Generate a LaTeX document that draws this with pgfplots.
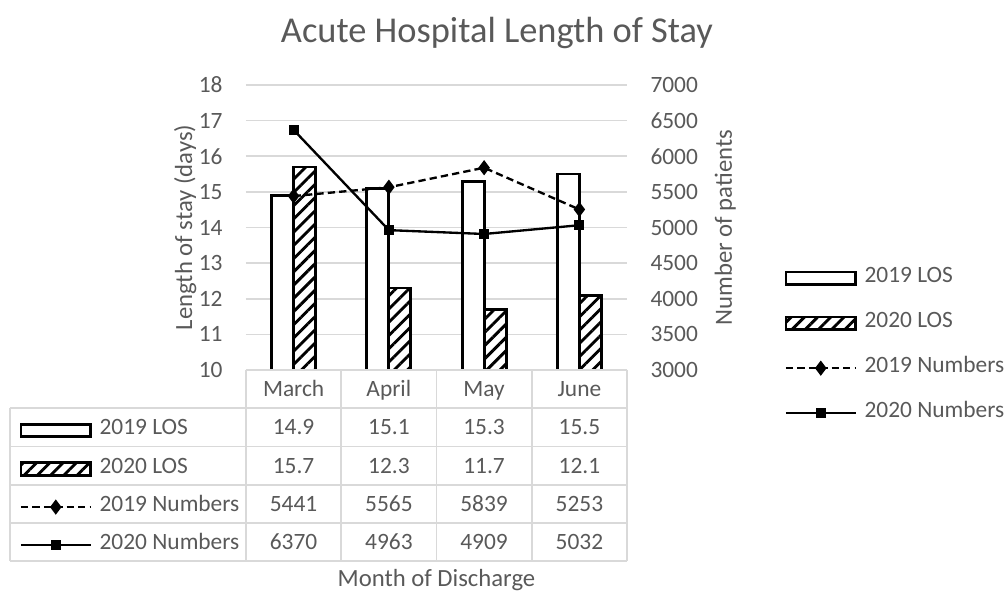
\documentclass[border=0pt]{standalone}
\usepackage{fontspec}
\setmainfont{Carlito}
\usepackage{pgfplots}
\pgfplotsset{compat=1.18}
\usetikzlibrary{patterns.meta}

\definecolor{txt}{HTML}{595959}
\definecolor{gridc}{HTML}{D9D9D9}
\newlength\ux
\setlength\ux{0.3846pt}
\newcommand{\nf}{\fontsize{9}{11}\selectfont}
\newcommand{\lf}{\fontsize{9.5}{11.5}\selectfont}
% one table row: baseline, then the four month values
\newcommand\trow[5]{%
  \node[cell] at (47.6,#1) {#2};
  \node[cell] at (142.9,#1) {#3};
  \node[cell] at (238.1,#1) {#4};
  \node[cell] at (333.4,#1) {#5};}

\pgfplotsset{
  barleg/.style={legend image code/.code={\draw[##1,line width=1.1pt] (0pt,-2.4pt) rectangle (26.8pt,2.4pt);}},
  lineleg/.style={legend image code/.code={\draw[mark repeat=2,mark phase=2,##1] plot coordinates {(0pt,0pt) (13.4pt,0pt) (26.8pt,0pt)};}},
  los19/.style={draw=black, fill=white, line width=1.1pt, barleg},
  los20/.style={draw=black, fill=white, line width=1.1pt,
    postaction={pattern={Lines[angle=45,distance=3.6pt,line width=1.1pt]}, pattern color=black}, barleg},
  num19/.style={sharp plot, black, line width=0.9pt, dash pattern=on 2.8pt off 1.6pt,
    mark=diamond*, mark size=2.2pt, mark options={solid}, lineleg},
  num20/.style={sharp plot, black, line width=0.9pt, solid, mark=square*, mark size=1.5pt, lineleg},
  common/.style={
    at={(0,0)}, anchor=south west, scale only axis,
    width=381\ux, height=285\ux, xmin=-0.5, xmax=3.5,
    major tick length=0,
    tick label style={font=\nf, text=txt},
    /pgf/number format/assume math mode=true,
    legend cell align=left,
    legend style={draw=none, fill=none, inner sep=0pt, font=\nf, text=txt,
      column sep=2.9pt, nodes={inner sep=0pt, text height=6.3pt, text depth=3pt}},
  },
}

\begin{document}
\begin{tikzpicture}[x=\ux, y=\ux, cell/.style={anchor=base, inner sep=0pt, font=\nf, text=txt}]
\useasboundingbox (-246,-222) rectangle (759,370);

% left axis: length of stay bars
\begin{axis}[common,
  ymin=10, ymax=18, ytick={10,...,18},
  xtick={0,1,2,3}, xticklabels={March,April,May,June},
  xticklabel style={anchor=base, inner sep=0pt, yshift=-26.6\ux},
  axis line style={draw=none},
  ymajorgrids, grid style={gridc, line width=0.6pt},
  yticklabel style={anchor=east, inner sep=0pt, xshift=-23\ux},
  ylabel={Length of stay (days)},
  every axis y label/.style={at={(axis description cs:-0.1417,0.5)}, rotate=90, anchor=base, font=\lf, text=txt},
  xlabel={Month of Discharge},
  every axis x label/.style={at={(axis description cs:0.5,-0.7614)}, anchor=base, font=\lf, text=txt},
  legend style={at={(axis description cs:-0.5958,-0.414)}, anchor=west, row sep=5.4pt},
]
\addplot[ybar, bar width=0.231, los19, bar shift=-0.1155] coordinates {(0,14.9) (1,15.1) (2,15.3) (3,15.5)};
\addplot[ybar, bar width=0.231, los20, bar shift=0.1155] coordinates {(0,15.7) (1,12.3) (2,11.7) (3,12.1)};
\addlegendimage{num19}
\addlegendimage{num20}
\legend{2019 LOS, 2020 LOS, 2019 Numbers, 2020 Numbers}
\end{axis}

% right axis: patient numbers
\begin{axis}[common,
  ymin=3000, ymax=7000, ytick={3000,3500,...,7000},
  axis x line=none, axis y line*=right, y axis line style={draw=none},
  scaled y ticks=false,
  yticklabel style={anchor=west, inner sep=0pt, xshift=23\ux, /pgf/number format/1000 sep={}},
  ylabel={Number of patients},
  every axis y label/.style={at={(axis description cs:1.2756,0.5)}, rotate=90, anchor=base, font=\lf, text=txt},
  legend style={at={(axis description cs:1.4121,0.0853)}, anchor=west, row sep=8pt},
]
\addlegendimage{los19}
\addlegendimage{los20}
\addplot[num19] coordinates {(0,5441) (1,5565) (2,5839) (3,5253)};
\addplot[num20] coordinates {(0,6370) (1,4963) (2,4909) (3,5032)};
\legend{2019 LOS, 2020 LOS, 2019 Numbers, 2020 Numbers}
\end{axis}

% data table grid
\begin{scope}[gridc, line width=0.6pt]
\draw (0,0) -- (381,0);
\foreach \y in {-38.25,-76.5,-114.75,-153,-191.25} \draw (-236,\y) -- (381,\y);
\draw (-236,-38.25) -- (-236,-191.25);
\foreach \x in {0,95.25,190.5,285.75,381} \draw (\x,0) -- (\x,-191.25);
\end{scope}

\trow{-64.9}{14.9}{15.1}{15.3}{15.5}
\trow{-103.1}{15.7}{12.3}{11.7}{12.1}
\trow{-141.4}{5441}{5565}{5839}{5253}
\trow{-179.6}{6370}{4963}{4909}{5032}

\node[anchor=base, font=\fontsize{14}{17}\selectfont, text=txt] at (251,327) {Acute Hospital Length of Stay};
\end{tikzpicture}
\end{document}
